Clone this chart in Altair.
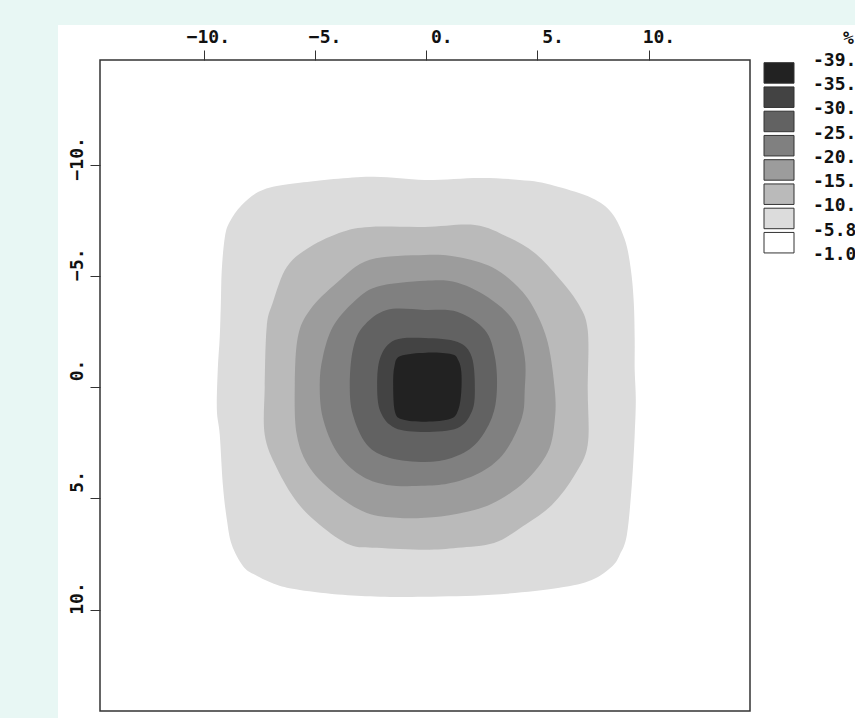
import altair as alt
import pandas as pd

# Contour level boundaries (legend text) and the gray of each band between them
LEVEL_LABELS = ["-39.", "-35.", "-30.", "-25.", "-20.", "-15.", "-10.", "-5.8", "-1.0"]
BAND_GRAYS = ["#222222", "#434343", "#626262", "#808080",
              "#9c9c9c", "#bababa", "#dcdcdc", "#ffffff"]
UNIT_LABEL = "%"

AXIS_TICKS = [-10, -5, 0, 5, 10]

# Closed contour outlines, outermost first (x, y in plot units, y grows downward)
C1_X = [-0.06, 2.50, 4.66, 5.92, 7.44, 8.34, 8.93, 9.20, 9.33, 9.37, 9.37, 9.42, 9.37, 9.24,
        9.02, 8.70, 8.34, 7.44, 5.92, 2.95, -0.06, -2.08, -3.74, -5.67, -6.71, -7.69, -8.23,
        -8.73, -8.95, -9.13, -9.27, -9.40, -9.36, -9.27, -9.22, -9.18, -9.04, -8.82, -8.28,
        -7.34, -5.67, -2.53]
C1_Y = [-9.31, -9.40, -9.27, -9.00, -8.50, -7.83, -6.62, -5.27, -3.79, -2.12, -0.78, 0.57,
        2.14, 4.39, 6.63, 7.53, 8.07, 8.66, 9.02, 9.33, 9.42, 9.42, 9.33, 9.11, 8.88, 8.43,
        8.03, 7.08, 5.96, 4.39, 2.14, 1.02, -0.78, -2.26, -3.79, -5.27, -6.75, -7.43, -8.19,
        -8.86, -9.18, -9.45]

C2_X = [-0.06, 2.19, 3.67, 4.88, 5.92, 6.81, 7.26, 7.26, 7.26, 6.68, 5.65, 4.20, 3.05, 1.42,
        -0.06, -2.21, -3.43, -4.77, -5.81, -6.71, -7.25, -7.25, -7.16, -6.89, -6.26, -5.22,
        -3.74, -2.53]
C2_Y = [-7.20, -7.29, -6.75, -6.03, -4.95, -3.79, -2.57, 0.12, 2.59, 3.94, 5.29, 6.35, 7.00,
        7.22, 7.31, 7.22, 7.08, 6.19, 5.15, 3.63, 2.14, -0.01, -2.71, -3.79, -5.40, -6.30,
        -6.98, -7.20]

C3_X = [-0.06, 1.42, 2.95, 4.12, 4.88, 5.47, 5.78, 5.78, 5.47, 4.43, 2.95, 1.42, -0.06,
        -1.32, -2.66, -4.01, -5.22, -5.81, -5.90, -5.76, -5.22, -4.01, -2.53]
C3_Y = [-5.94, -5.85, -5.40, -4.51, -3.47, -1.99, 0.12, 1.47, 2.91, 4.25, 5.24, 5.69, 5.87,
        5.87, 5.65, 4.84, 3.63, 2.14, -0.10, -2.26, -3.47, -4.69, -5.72]

C4_X = [-0.06, 1.42, 2.95, 3.98, 4.43, 4.43, 4.30, 3.54, 2.50, 1.15, -0.06, -1.77, -2.98,
        -4.01, -4.64, -4.78, -4.64, -4.19, -3.29, -2.21]
C4_Y = [-4.78, -4.69, -3.92, -2.89, -1.36, 0.12, 1.38, 2.91, 3.80, 4.30, 4.43, 4.39, 3.94,
        2.91, 1.38, -0.10, -1.36, -2.71, -3.79, -4.51]

C5_X = [-0.06, 1.42, 2.64, 3.09, 3.18, 2.95, 2.19, 1.15, -0.06, -1.63, -2.66, -3.29, -3.43,
        -3.29, -2.84, -1.77]
C5_Y = [-3.47, -3.38, -2.57, -1.36, 0.12, 1.38, 2.59, 3.18, 3.36, 3.18, 2.59, 1.24, -0.10,
        -1.68, -2.71, -3.47]

C6_X = [-0.06, 1.42, 2.05, 2.19, 2.05, 1.42, -0.06, -1.40, -2.05, -2.20, -2.05, -1.40]
C6_Y = [-2.21, -2.03, -1.36, 0.12, 1.11, 1.83, 2.01, 1.83, 1.11, -0.10, -1.36, -2.12]

C7_X = [0.00, 1.15, 1.45, 1.58, 1.58, 1.45, 1.10, 0.00, -1.05, -1.40, -1.48, -1.42, -1.15]
C7_Y = [-1.55, -1.48, -1.20, -0.70, 0.20, 1.00, 1.42, 1.55, 1.45, 1.10, -0.10, -0.95, -1.40]

OUTLINES = [(C1_X, C1_Y), (C2_X, C2_Y), (C3_X, C3_Y), (C4_X, C4_Y),
            (C5_X, C5_Y), (C6_X, C6_Y), (C7_X, C7_Y)]

PAGE_BG = "#e8f7f4"
FRAME = "#333333"
INK = "#111111"
MONO = "DejaVu Sans Mono"

rows = []
for band, (xs, ys) in enumerate(OUTLINES):
    for k, (x, y) in enumerate(zip(xs, ys)):
        rows.append({"band": band, "k": k, "x": x, "y": y})
outline_df = pd.DataFrame(rows)

x_enc = alt.X(
    "x:Q",
    scale=alt.Scale(domain=[-14.65, 14.55], nice=False, zero=False),
    axis=alt.Axis(
        orient="top", values=AXIS_TICKS, title=None, grid=False, domain=False,
        labelExpr="format(datum.value, 'd') + '.'",
        tickSize=10, tickColor=FRAME, tickWidth=1,
        labelFont=MONO, labelFontSize=18, labelFontWeight="bold", labelColor=INK,
        labelAlign="right", labelOffset=26, labelBaseline="alphabetic", labelPadding=8,
        labelOverlap=False, labelFlush=False, labelBound=False, zindex=2,
    ),
)
y_enc = alt.Y(
    "y:Q",
    scale=alt.Scale(domain=[-14.7, 14.55], nice=False, zero=False, reverse=True),
    axis=alt.Axis(
        orient="left", values=AXIS_TICKS, title=None, grid=False, domain=False,
        labelExpr="format(datum.value, 'd') + '.'",
        tickSize=10, tickColor=FRAME, tickWidth=1,
        labelFont=MONO, labelFontSize=18, labelFontWeight="bold", labelColor=INK,
        labelAngle=270, labelAlign="right", labelOffset=-28, labelBaseline="alphabetic",
        labelPadding=8, labelOverlap=False, labelFlush=False, labelBound=False, zindex=2,
    ),
)

# filled contour bands, painted from the outermost outline inward
bands = []
for band in range(len(OUTLINES)):
    bands.append(
        alt.Chart(outline_df)
        .transform_filter(alt.datum.band == band)
        .mark_line(filled=True, interpolate="cardinal-closed", fill=BAND_GRAYS[6 - band])
        .encode(x=x_enc, y=y_enc, order=alt.Order("k:Q"))
    )
contours = alt.layer(*bands)

one_row = pd.DataFrame({"p": [0]})

# white panel behind plot, axes and key
panel = (
    alt.Chart(one_row)
    .mark_rect(fill="white")
    .encode(x=alt.value(-42), x2=alt.value(760), y=alt.value(-35), y2=alt.value(665))
)

# box around the plotting area, drawn over the filled bands
frame = (
    alt.Chart(one_row)
    .mark_rect(fillOpacity=0, stroke=FRAME, strokeWidth=1.5)
    .encode(x=alt.value(0), x2=alt.value(650), y=alt.value(0), y2=alt.value(651))
)

# level key: one swatch per band, boundary values between them
key_scale = alt.Scale(domain=[-0.0412, 26.804], nice=False, zero=False, reverse=True)
swatch_df = pd.DataFrame({"i": list(range(len(BAND_GRAYS))), "gray": BAND_GRAYS})
label_df = pd.DataFrame({"i": list(range(len(LEVEL_LABELS))), "label": LEVEL_LABELS})

swatches = (
    alt.Chart(swatch_df)
    .transform_calculate(top="datum.i + 0.07", bottom="datum.i + 0.915")
    .mark_rect(stroke=FRAME, strokeWidth=1)
    .encode(
        x=alt.value(664), x2=alt.value(694),
        y=alt.Y("top:Q", scale=key_scale, axis=None),
        y2="bottom:Q",
        fill=alt.Fill("gray:N", scale=None),
    )
)
key_labels = (
    alt.Chart(label_df)
    .mark_text(font=MONO, fontSize=18, fontWeight="bold", align="left",
               baseline="middle", color=INK)
    .encode(x=alt.value(713), y=alt.Y("i:Q", scale=key_scale, axis=None), text="label:N")
)
key_title = (
    alt.Chart(pd.DataFrame({"t": [UNIT_LABEL]}))
    .mark_text(font=MONO, fontSize=18, fontWeight="bold", align="left",
               baseline="middle", color=INK)
    .encode(x=alt.value(743), y=alt.value(-21), text="t:N")
)
key = alt.layer(swatches, key_labels)

chart = (
    alt.layer(panel, contours, frame, key, key_title)
    .resolve_scale(y="independent")
    .properties(
        width=650,
        height=651,
        padding={"left": 100, "top": 60, "right": 105, "bottom": 7},
        autosize=alt.AutoSizeParams(type="none"),
        background=PAGE_BG,
    )
    .configure_view(stroke=None)
)

chart.save("out.html", embed_options={"renderer": "svg", "actions": False})
